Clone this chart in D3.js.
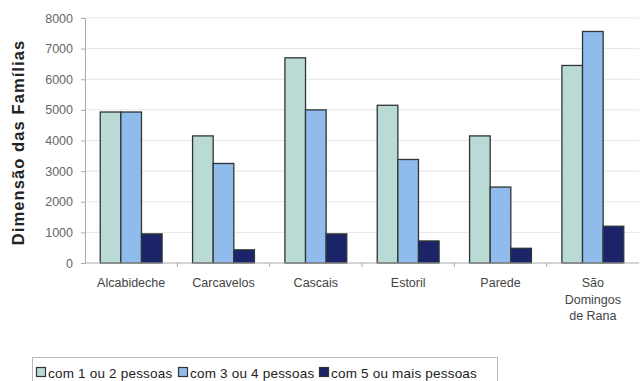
<!DOCTYPE html>
<html>
<head>
<meta charset="utf-8">
<script src="https://cdn.jsdelivr.net/npm/d3@7"></script>
<style>
  body { margin: 0; background: #fff; }
  svg { font-family: "Liberation Sans", Arial, sans-serif; }
</style>
</head>
<body>
<div id="chart"></div>
<script>
// Data
var categories = ["Alcabideche", "Carcavelos", "Cascais", "Estoril", "Parede", "São Domingos de Rana"];
var seriesNames = ["com 1 ou 2 pessoas", "com 3 ou 4 pessoas", "com 5 ou mais pessoas"];
var oneOrTwo = [4930, 4150, 6700, 5150, 4150, 6450];
var threeOrFour = [4930, 3250, 5000, 3380, 2480, 7560];
var fiveOrMore = [950, 430, 950, 720, 480, 1200];
var yTicks = [0, 1000, 2000, 3000, 4000, 5000, 6000, 7000, 8000];

var colors = ["#b9dad5", "#8fbcec", "#1b2468"];

var svgWidth = 641;
var svgHeight = 381;
var margin = { top: 18, right: 2, bottom: 118, left: 85 };
var width = svgWidth - margin.left - margin.right;
var height = svgHeight - margin.top - margin.bottom;

var svg = d3.select("#chart")
    .append("svg")
    .attr("width", svgWidth)
    .attr("height", svgHeight);

var chartGroup = svg.append("g")
    .attr("transform", `translate(${margin.left}, ${margin.top})`);

var seriesValues = [oneOrTwo, threeOrFour, fiveOrMore];
var table = categories.map(function(c, i) {
    return { cat: c, values: seriesValues.map(function(s) { return s[i]; }) };
});

// Scales
var xScale = d3.scaleBand()
    .domain(categories)
    .range([0, width])
    .paddingInner(0.33)
    .paddingOuter(0.165);

var xSub = d3.scaleBand()
    .domain(d3.range(seriesNames.length))
    .range([0, xScale.bandwidth()]);

var yScale = d3.scaleLinear()
    .domain([0, 8000])
    .range([height, 0]);

// Gridlines
chartGroup.append("g")
    .selectAll("line")
    .data(yTicks.slice(1))
    .enter()
    .append("line")
    .attr("x1", 0)
    .attr("x2", width)
    .attr("y1", d => yScale(d))
    .attr("y2", d => yScale(d))
    .attr("stroke", "#e6e6e6")
    .attr("stroke-width", 1);

// Y axis
var leftAxis = d3.axisLeft(yScale)
    .tickValues(yTicks)
    .tickFormat(d3.format("d"))
    .tickSize(4)
    .tickPadding(8);
var yAxis = chartGroup.append("g").call(leftAxis);
yAxis.select(".domain").attr("stroke", "#aaa");
yAxis.selectAll(".tick line").attr("stroke", "#aaa");
yAxis.selectAll("text")
    .attr("font-size", 12.5)
    .attr("fill", "#666");

// Bars
var groups = chartGroup.selectAll(".cat")
    .data(table)
    .enter()
    .append("g")
    .attr("transform", d => `translate(${xScale(d.cat)}, 0)`);

groups.selectAll("rect")
    .data(d => d.values)
    .enter()
    .append("rect")
    .attr("x", (d, i) => xSub(i))
    .attr("y", d => yScale(d))
    .attr("width", xSub.bandwidth())
    .attr("height", d => height - yScale(d))
    .attr("fill", (d, i) => colors[i])
    .attr("stroke", "#2f3535")
    .attr("stroke-width", 1.3);

// X axis (ticks between categories)
var xAxis = chartGroup.append("g")
    .attr("transform", `translate(0, ${height})`);
xAxis.append("line")
    .attr("x1", 0).attr("x2", width)
    .attr("stroke", "#aaa");
xAxis.selectAll(".sep")
    .data(d3.range(1, categories.length))
    .enter()
    .append("line")
    .attr("x1", d => d * width / categories.length)
    .attr("x2", d => d * width / categories.length)
    .attr("y1", 0).attr("y2", 4)
    .attr("stroke", "#aaa");

// Category labels, wrapped like the original
var labelLines = {
    "São Domingos de Rana": ["São", "Domingos", "de Rana"]
};
xAxis.selectAll(".lbl")
    .data(categories)
    .enter()
    .append("text")
    .attr("text-anchor", "middle")
    .attr("font-size", 12.5)
    .attr("fill", "#444")
    .attr("transform", d => `translate(${xScale(d) + xScale.bandwidth() / 2}, 24)`)
    .each(function(d) {
        var lines = labelLines[d] || [d];
        var t = d3.select(this);
        lines.forEach(function(l, i) {
            t.append("tspan").attr("x", 0).attr("y", i * 16.5).text(l);
        });
    });

// Y axis title
svg.append("text")
    .attr("transform", `translate(24, ${margin.top + height / 2 + 2}) rotate(-90)`)
    .attr("text-anchor", "middle")
    .attr("font-size", 16.5)
    .attr("font-weight", "bold")
    .attr("fill", "#222")
    .attr("letter-spacing", 1.1)
    .text("Dimensão das Famílias");

// Legend
var legend = svg.append("g");
legend.append("rect")
    .attr("x", 32.5)
    .attr("y", 357.5)
    .attr("width", 465)
    .attr("height", 30)
    .attr("fill", "none")
    .attr("stroke", "#bbb");

var legendX = [36, 178, 319];
var legendItems = legend.selectAll(".item")
    .data(seriesNames)
    .enter()
    .append("g")
    .attr("transform", (d, i) => `translate(${legendX[i]}, 0)`);
legendItems.append("rect")
    .attr("x", 0.5)
    .attr("y", 367.5)
    .attr("width", 9)
    .attr("height", 9)
    .attr("fill", (d, i) => colors[i])
    .attr("stroke", "#333")
    .attr("stroke-width", 1.2);
legendItems.append("text")
    .attr("x", 12)
    .attr("y", 378)
    .attr("font-size", 13.5)
    .attr("fill", "#222")
    .attr("letter-spacing", 0.2)
    .text(d => d);
</script>
</body>
</html>
